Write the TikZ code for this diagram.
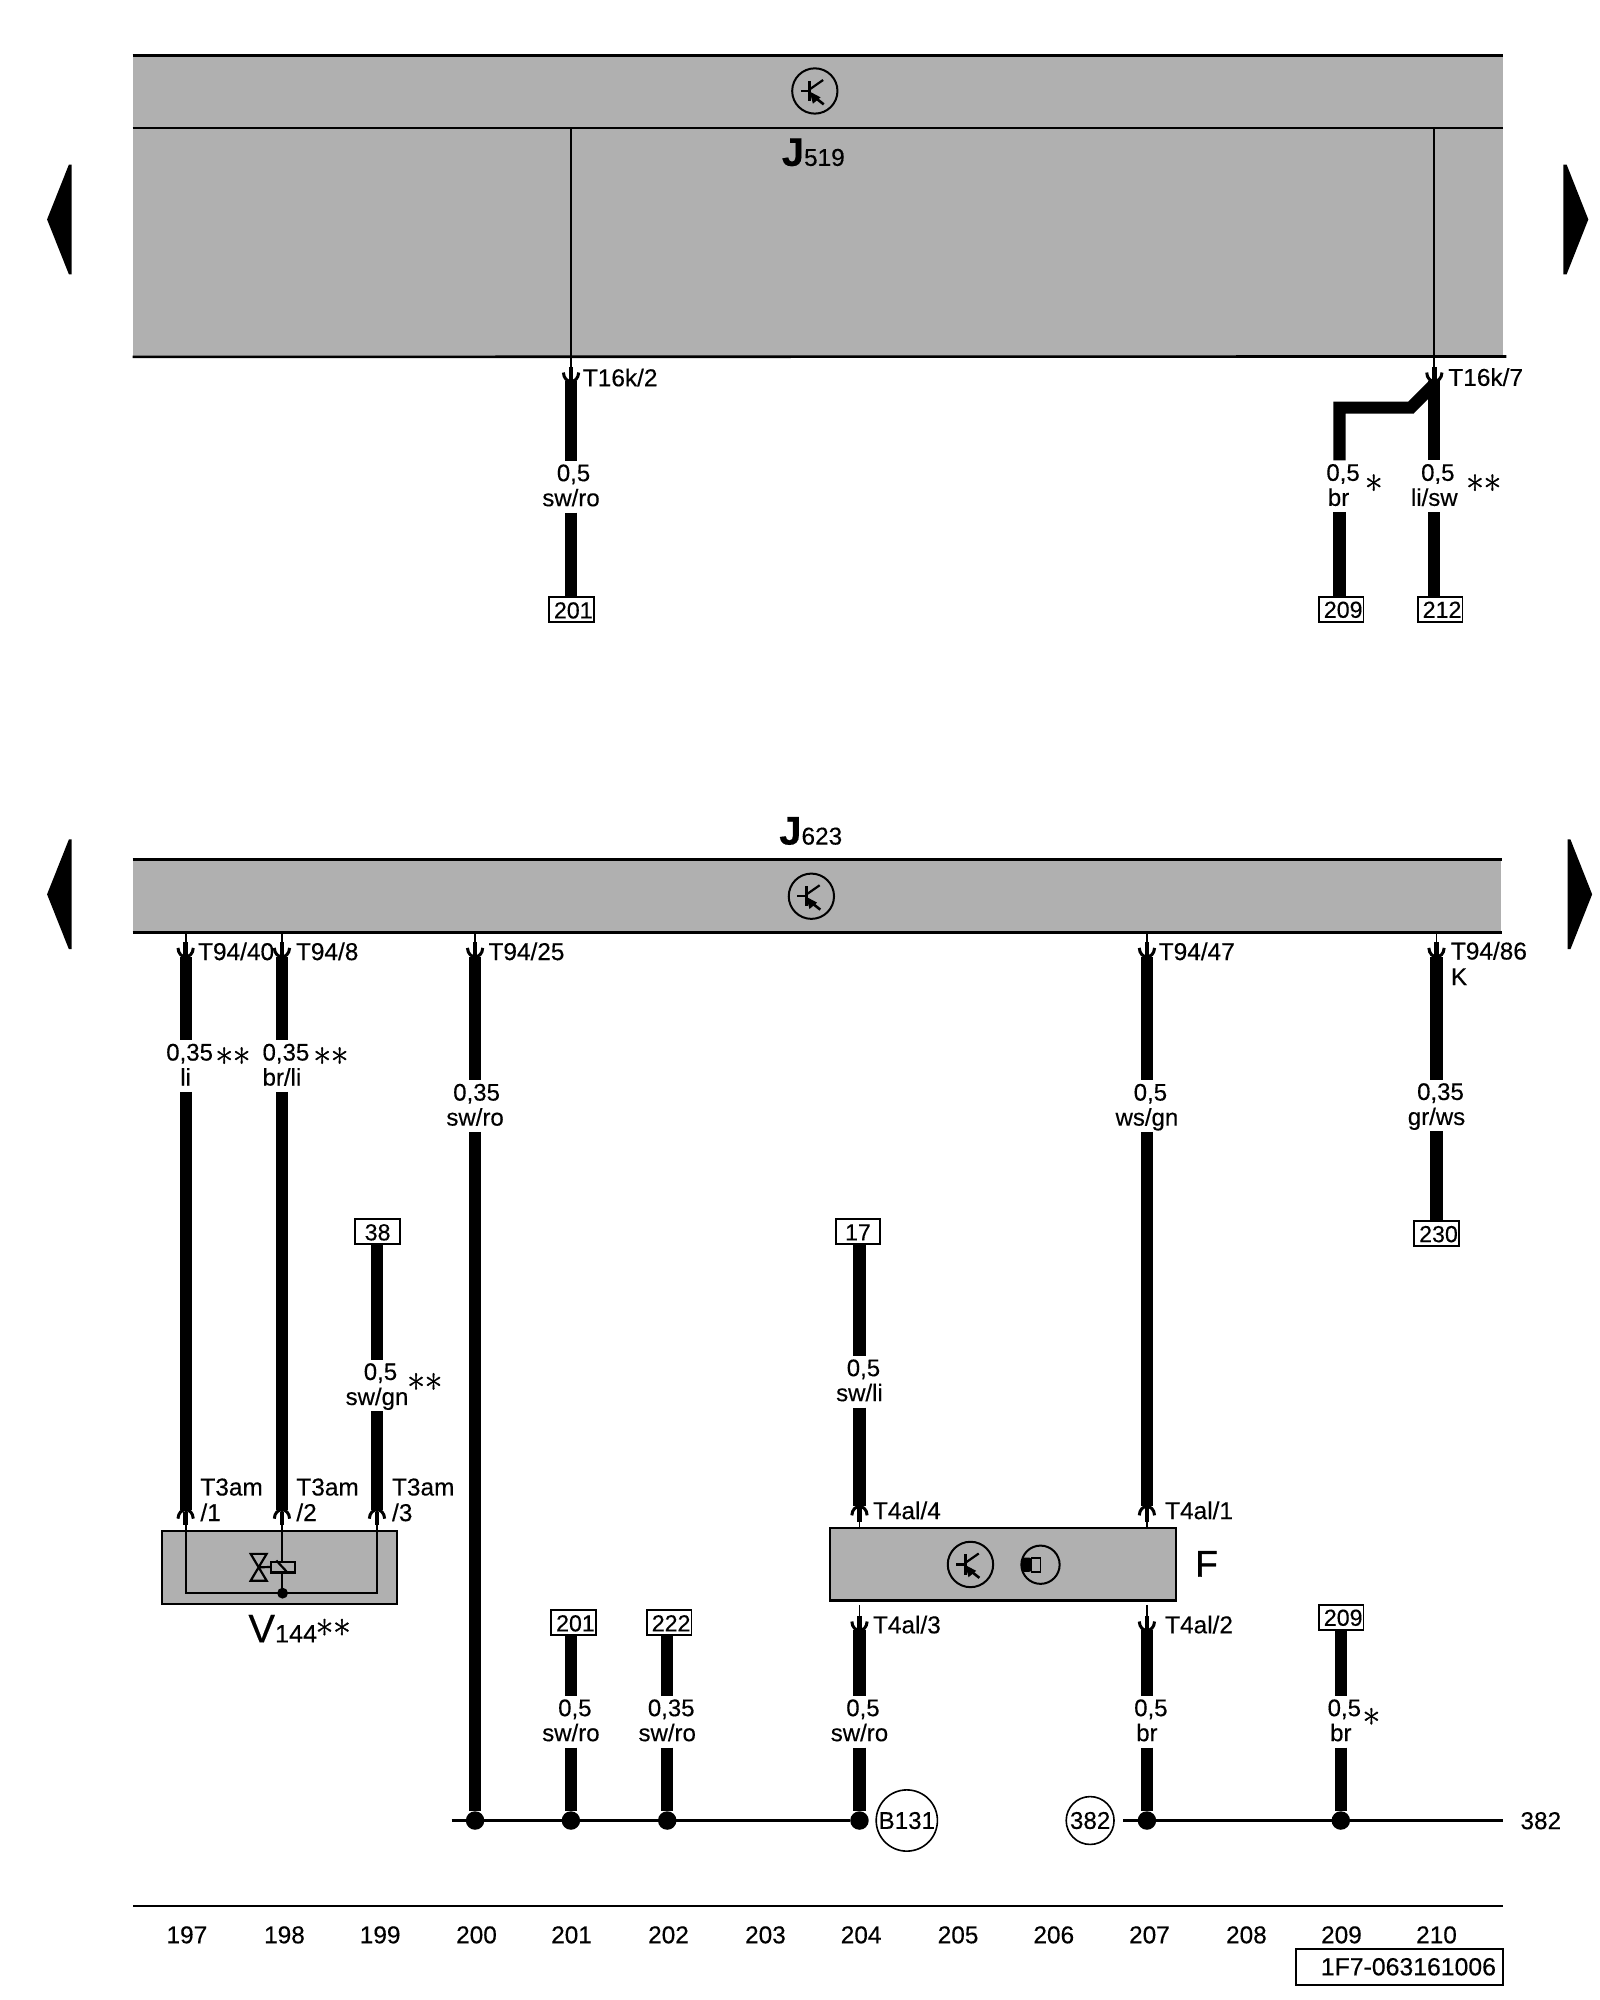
\documentclass[tikz,border=0pt]{standalone}
\usepackage{fontspec}
\setmainfont[FakeBold=0.3]{Liberation Sans}
\newfontfamily\starfont[FakeBold=1.2]{Latin Modern Roman}
\def\unitS{0.63796pt}
\tikzset{
  module/.style={fill=modgray,inner sep=0pt},
  modrule/.style={line width=1.3pt},
  modbox/.style={draw,fill=modgray,line width=1.1pt,inner sep=0pt},
  wire/.style={line width=6.1pt,miter limit=10},
  pinline/.style={line width=0.9pt},
  stub/.style={line width=2.3pt},
  cup/.style={line width=1.5pt},
  bus/.style={line width=1.1pt},
  inner/.style={line width=1.1pt},
  wirelabel/.style={inner sep=0pt,minimum height=25.5pt,text width=60*\unitS,align=center,
    text height=10pt,text depth=15.5pt,font=\fontsize{12}{12.5}\selectfont},
  pinlabel/.style={anchor=west,inner sep=0pt,text height=8.6pt,text depth=0pt,align=left,
    font=\fontsize{12.2}{12.8}\selectfont},
  pinlabeltwo/.style={pinlabel,text height=21.4pt},
  refbox/.style={draw,fill=white,line width=0.9pt,inner sep=0pt,minimum width=35*\unitS,minimum height=19.5*\unitS,
    text height=8.6pt,text depth=0pt,font=\fontsize{11.6}{12}\selectfont},
  refcircle/.style={circle,draw,line width=0.8pt,inner sep=0pt,font=\fontsize{12.1}{12}\selectfont},
  symcircle/.style={circle,draw,line width=1pt,inner sep=0pt},
  junction/.style={circle,fill=black,inner sep=0pt,minimum size=14.5*\unitS},
  starlabel/.style={anchor=base,inner sep=0pt,yshift=-10pt,font=\starfont\fontsize{19}{19}\selectfont},
  pagenum/.style={inner sep=0pt,text height=8.6pt,text depth=0pt,font=\fontsize{12.2}{12}\selectfont},
  plugdown/.pic={
    \draw[stub] (0,-11.5) -- (0,-1);
    \draw[cup] (-6,-7) .. controls (-5.5,2.3) and (5.5,2.3) .. (6,-7);
  },
  plugup/.pic={
    \draw[stub] (0,1.5) -- (0,12);
    \draw[cup] (-6,7) .. controls (-5.5,-2.3) and (5.5,-2.3) .. (6,7);
  },
  transistor/.pic={
    \draw[line width=1.1pt] (-11,0) -- (-4,0);
    \draw[line width=1.3pt] (-4,-8) -- (-4,8);
    \draw[line width=1.1pt] (-4,-1.3) -- (6.5,-8.6);
    \fill (-4,0.5) -- (4.5,5) -- (-1.5,10) -- cycle;
    \draw[line width=1.3pt] (0,5) -- (7,10.5);
  }
}
\definecolor{modgray}{HTML}{B0B0B0}
\begin{document}
\begin{tikzpicture}[x=0.63796pt,y=-0.63796pt]
  \useasboundingbox (0,0) rectangle (1254,1567.7);
  % side arrows
  \fill (36.9,172) -- (54,129) -- (56.2,129) -- (56.2,215) -- (54,215) -- cycle;
  \fill (1245,172) -- (1228,129) -- (1225.5,129) -- (1225.5,215) -- (1228,215) -- cycle;
  \fill (36.9,701) -- (54,658) -- (56.2,658) -- (56.2,744) -- (54,744) -- cycle;
  \fill (1248,701) -- (1231,658) -- (1228.8,658) -- (1228.8,744) -- (1231,744) -- cycle;

  % J519
  \node[module,minimum width=1073.7*\unitS,minimum height=235.5*\unitS] (J519) at (641.1,161.7) {};
  \draw[modrule] (J519.north west) -- (J519.north east);
  \coordinate (J519mid) at (J519.west |- 0,100.3);
  \draw[modrule] (J519mid) -- (J519mid -| J519.east);
  \coordinate (J519end) at (1180.8,279.4);
  \draw[modrule] (J519.south west) -- (J519end);
  \node[symcircle,minimum size=35.5*\unitS] (J519sym) at (638.7,71.3) {};
  \pic at (J519sym) {transistor};
  \node[anchor=base,inner sep=0pt] (J519name) at (637.5,130) {\fontsize{20}{20}\selectfont\bfseries J\fontsize{12.2}{12}\mdseries\selectfont 519};

  % J623
  \node[module,minimum width=1072.6*\unitS,minimum height=56.4*\unitS] (J623) at (640.6,702.2) {};
  \draw[modrule] (J623.north west) -- (J623.north east);
  \draw[modrule] (J623.south west) -- (J623.south east);
  \node[symcircle,minimum size=35.5*\unitS] (J623sym) at (636,702.5) {};
  \pic at (J623sym) {transistor};
  \node[anchor=base,inner sep=0pt] (J623name) at (635.5,662) {\fontsize{20}{20}\selectfont\bfseries J\fontsize{12.2}{12}\mdseries\selectfont 623};

  % wires from J519
  \coordinate (a1) at (447.6,299);
  \coordinate (c1) at (1124.3,299);
  \node[wirelabel] (a2) at (447.6,381.5) {\hspace*{2.5pt}0,5\\sw/ro};
  \node[wirelabel] (b2) at (1050,381.2) {\hspace*{3.5pt}0,5\\\hspace*{-1pt}br\hspace*{1pt}};
  \node[wirelabel] (c2) at (1124.3,381.2) {\hspace*{3.5pt}0,5\\li/sw};
  \node[refbox] (b201a) at (447.8,478) {\hspace*{2pt}201};
  \node[refbox] (b209a) at (1051.3,477.5) {\hspace*{2pt}209};
  \node[refbox] (b212) at (1128.8,477.5) {\hspace*{2pt}212};
  \draw[pinline] (J519mid -| a1) -- (a1);
  \draw[pinline] (J519mid -| c1) -- (c1);
  \pic at (a1) {plugdown};
  \pic at (c1) {plugdown};
  \draw[wire] (a1) -- (a2) -- (b201a.north -| a1);
  \draw[wire] (c1) -- (c2) -- (b212.north -| c1);
  \draw[wire] (c1) ++(0,2) -- (1106,319.5) -- (1050,319.5) -- (b2);
  \draw[wire] (b2) -- (b209a.north -| b2);
  \node[pinlabel] (a3) at (456.6,296) {T16k/2};
  \node[pinlabel] (c3) at (1135,295.7) {T16k/7};
  \node[starlabel] (b4) at (1076.8,378.5) {*};
  \node[starlabel] (c4) at (1163,378.5) {**};

  % V144
  \node[modbox,minimum width=184*\unitS,minimum height=57*\unitS] (V144) at (219,1228.5) {};
  \coordinate (v1) at (145.5,1183.4);
  \coordinate (v2) at (221,1183.4);
  \coordinate (v3) at (295.5,1183.4);
  \coordinate (rail) at (221.5,1248.8);
  \draw[inner] (v1) -- (v1 |- rail) -- (v3 |- rail) -- (v3);
  \draw[inner] (v2) -- (v2 |- rail);
  \node[draw,fill=modgray,line width=1.1pt,inner sep=0pt,minimum width=18.8*\unitS,minimum height=8.5*\unitS] (relay) at (221.8,1228.3) {};
  \draw[inner] (relay.north west) ++(5,0) -- ++(8,8.5);
  \draw[inner] (196.5,1218) -- (209,1218) -- (196.5,1239) -- (209,1239) -- cycle;
  \draw[inner] (202.7,1228.5) -- (relay.west);
  \node[circle,fill=black,inner sep=0pt,minimum size=8.5*\unitS] (railjoin) at (rail) {};
  \node[anchor=base west,inner sep=0pt] (V144name) at (194.4,1287.4) {\fontsize{20}{20}\selectfont V\fontsize{12.6}{12}\selectfont 144};
  \node[starlabel] (V144star) at (261.2,1275.6) {**};

  % wires from J623
  \coordinate (p1) at (145.5,750);
  \coordinate (p2) at (221,750);
  \coordinate (p4) at (372.4,750);
  \coordinate (p7) at (899,750);
  \coordinate (p9) at (1126,750);
  \foreach \p in {p1,p2,p4,p7,p9} {
    \draw[pinline] (J623.south -| \p) -- (\p);
    \pic at (\p) {plugdown};
  }
  \node[wirelabel] (l1) at (145.5,835.6) {\hspace*{4pt}0,35\\li};
  \node[wirelabel] (l2) at (221,835.6) {\hspace*{4pt}0,35\\br/li};
  \node[wirelabel] (l3) at (295.5,1086) {\hspace*{3.5pt}0,5\\sw/gn};
  \node[wirelabel] (l4) at (372.4,867) {\hspace*{1.5pt}0,35\\sw/ro};
  \node[wirelabel] (l5) at (673.7,1083) {\hspace*{4pt}0,5\\sw/li};
  \node[wirelabel] (l7) at (899,867) {\hspace*{3.5pt}0,5\\ws/gn};
  \node[wirelabel] (l9) at (1126,866.5) {\hspace*{4pt}0,35\\gr/ws};
  \node[refbox] (b38) at (296,965.5) {38};
  \node[refbox] (b17) at (672.5,965.5) {17};
  \node[refbox] (b230) at (1126,966.9) {\hspace*{2pt}230};
  \draw[wire] (p1) -- (l1) -- (v1);
  \draw[wire] (p2) -- (l2) -- (v2);
  \draw[wire] (b38.south -| l3) -- (l3) -- (v3);
  \draw[wire] (p9) -- (l9) -- (b230.north -| p9);
  \pic at (v1) {plugup};
  \pic at (v2) {plugup};
  \pic at (v3) {plugup};
  \node[pinlabel] (n1) at (155,745.8) {T94/40};
  \node[pinlabel] (n2) at (231.7,745.8) {T94/8};
  \node[pinlabel] (n4) at (382.6,745.8) {T94/25};
  \node[pinlabel] (n7) at (908,745.8) {T94/47};
  \node[pinlabeltwo] (n9) at (1137,755.4) {T94/86\\K};
  \node[pinlabeltwo] (v1n) at (156.8,1175.5) {T3am\\/1};
  \node[pinlabeltwo] (v2n) at (232,1175.5) {T3am\\/2};
  \node[pinlabeltwo] (v3n) at (307,1175.5) {T3am\\/3};
  \node[starlabel] (s1) at (182.6,827.6) {**};
  \node[starlabel] (s2) at (259.4,827.6) {**};
  \node[starlabel] (s3) at (333,1083) {**};

  % F
  \node[modbox,minimum width=271.5*\unitS,minimum height=56.8*\unitS] (F) at (786.2,1226.1) {};
  \node[symcircle,minimum size=35.6*\unitS] (Fsym1) at (760.7,1226.3) {};
  \pic at (Fsym1) {transistor};
  \node[symcircle,minimum size=30*\unitS] (Fsym2) at (815.6,1226.5) {};
  \fill[rounded corners=1pt] (801,1221) rectangle (808.5,1232);
  \draw[line width=0.9pt] (808.5,1221) rectangle (815.6,1232);
  \node[inner sep=0pt,text height=13pt,text depth=0pt,font=\fontsize{18.6}{19}\selectfont\addfontfeature{FakeBold=0.8}] (Fname) at (945.7,1225.7) {F};
  \coordinate (f1) at (673.7,1180.8);
  \coordinate (f2) at (899,1180.8);
  \coordinate (f3) at (673.7,1278);
  \coordinate (f4) at (899,1278);
  \draw[pinline] (f1) -- (F.north -| f1);
  \draw[pinline] (f2) -- (F.north -| f2);
  \draw[pinline] (673.7,1258) -- (f3);
  \draw[pinline] (899,1258) -- (f4);
  \pic at (f1) {plugup};
  \pic at (f2) {plugup};
  \pic at (f3) {plugdown};
  \pic at (f4) {plugdown};
  \node[pinlabel] (f1n) at (684,1184) {T4al/4};
  \node[pinlabel] (f2n) at (913,1184) {T4al/1};
  \node[pinlabel] (f3n) at (684,1273.5) {T4al/3};
  \node[pinlabel] (f4n) at (913,1273.5) {T4al/2};
  \draw[wire] (b17.south -| l5) -- (l5) -- (f1);
  \draw[wire] (p7) -- (l7) -- (f2);

  % ground bus
  \coordinate (busA) at (354,1427);
  \coordinate (busB) at (880.5,1427);
  \coordinate (busC) at (1178,1427);
  \node[junction] (j1) at (372.4,1427) {};
  \node[junction] (j2) at (447.5,1427) {};
  \node[junction] (j3) at (523,1427) {};
  \node[junction] (j4) at (673.7,1427) {};
  \node[junction] (j5) at (899,1427) {};
  \node[junction] (j6) at (1051,1427) {};
  \draw[bus] (busA) -- (j4);
  \draw[bus] (busB) -- (busC);
  \node[refbox] (b201) at (449.5,1272) {\hspace*{2pt}201};
  \node[refbox] (b222) at (524.5,1272) {\hspace*{2pt}222};
  \node[refbox] (b209) at (1051.3,1267.6) {\hspace*{2pt}209};
  \node[wirelabel] (m2) at (447.5,1349.5) {\hspace*{4pt}0,5\\sw/ro};
  \node[wirelabel] (m3) at (523,1349.5) {\hspace*{4pt}0,35\\sw/ro};
  \node[wirelabel] (m4) at (673.7,1349.5) {\hspace*{3.5pt}0,5\\sw/ro};
  \node[wirelabel] (m5) at (899,1349.5) {\hspace*{4pt}0,5\\br};
  \node[wirelabel] (m6) at (1051,1349.5) {\hspace*{3.5pt}0,5\\br};
  \draw[wire] (p4) -- (l4) -- (j1);
  \draw[wire] (b201.south -| m2) -- (m2) -- (j2);
  \draw[wire] (b222.south -| m3) -- (m3) -- (j3);
  \draw[wire] (f3) -- (m4) -- (j4);
  \draw[wire] (f4) -- (m5) -- (j5);
  \draw[wire] (b209.south -| m6) -- (m6) -- (j6);
  \node[starlabel] (s4) at (1075,1345.5) {*};
  \node[refcircle,minimum size=48*\unitS] (B131) at (710.8,1427) {B131};
  \node[refcircle,minimum size=37.5*\unitS] (c382) at (854.5,1427) {382};
  \node[pinlabel] (bus382) at (1191.5,1427) {382};

  % footer
  \coordinate (footA) at (104.3,1494);
  \coordinate (footB) at (1178,1494);
  \draw[modrule] (footA) -- (footB);
  \foreach \n/\x in {197/146.5,198/223,199/298,200/373.5,201/448,202/524,203/600,204/675,205/751,206/826,207/901,208/977,209/1051.5,210/1126} {
    \node[pagenum] (t\n) at (\x,1516.5) {\n};
  }
  \node[draw,line width=1.1pt,minimum width=162.3*\unitS,minimum height=28.2*\unitS,inner sep=0pt] (docbox) at (1096.8,1541.6) {};
  \node[pagenum,font=\fontsize{12.4}{12}\selectfont] (docnum) at (1104,1541.6) {1F7-063161006};
\end{tikzpicture}
\end{document}
